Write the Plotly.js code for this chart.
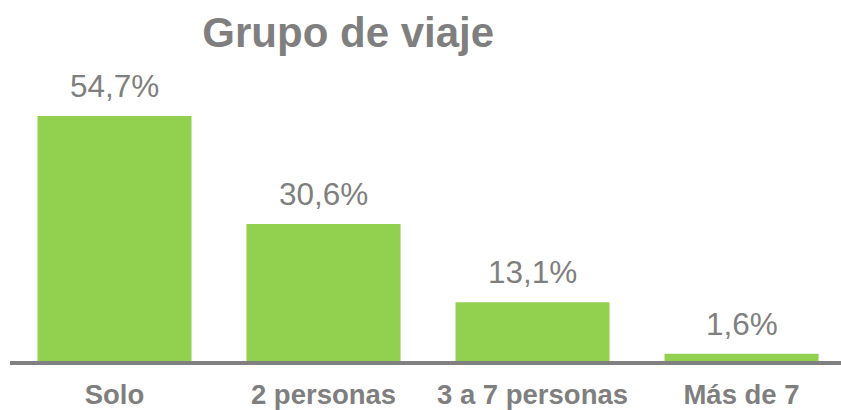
<!DOCTYPE html>
<html>
<head>
<meta charset="utf-8">
<script src="https://cdn.plot.ly/plotly-3.0.1.min.js"></script>
<style>html,body{margin:0;padding:0;background:#fff;}#chart{width:841px;height:410px;}</style>
</head>
<body>
<div id="chart"></div>
<script>
var categories = ["Solo", "2 personas", "3 a 7 personas", "Más de 7"];
var values = [54.7, 30.6, 13.1, 1.6];
var valueLabels = ["54,7%", "30,6%", "13,1%", "1,6%"];

var gray = "#7f7f7f";
var font = "Liberation Sans, Arial, sans-serif";

var trace = {
  type: "bar",
  x: categories,
  y: values,
  width: 0.737,
  marker: {color: "#92D050"},
  hoverinfo: "none"
};

var annotations = categories.map(function (c, i) {
  return {
    x: c, y: values[i], xref: "x", yref: "y",
    text: valueLabels[i], showarrow: false,
    yanchor: "bottom", yshift: 10,
    font: {family: font, size: 31.5, color: gray}
  };
});

var layout = {
  width: 841, height: 410,
  margin: {l: 10, r: 0, t: 60, b: 49},
  paper_bgcolor: "#fff", plot_bgcolor: "#fff",
  showlegend: false,
  title: {
    text: "<b>Grupo de viaje</b>",
    x: 0.407, xanchor: "center", xref: "paper",
    y: 0.922, yanchor: "middle", yref: "container",
    font: {family: font, size: 42, color: gray}
  },
  xaxis: {
    type: "category",
    range: [-0.5, 3.476],
    showgrid: false, zeroline: false,
    showline: true, linecolor: "#808080", linewidth: 4,
    ticks: "",
    tickfont: {family: font, size: 27.5, color: gray, weight: "bold"},
    ticklabelstandoff: 6
  },
  yaxis: {
    range: [0, 67.2],
    showgrid: false, zeroline: false, showline: false,
    showticklabels: false, ticks: ""
  },
  annotations: annotations
};

Plotly.newPlot("chart", [trace], layout, {displayModeBar: false, staticPlot: true});
</script>
</body>
</html>
